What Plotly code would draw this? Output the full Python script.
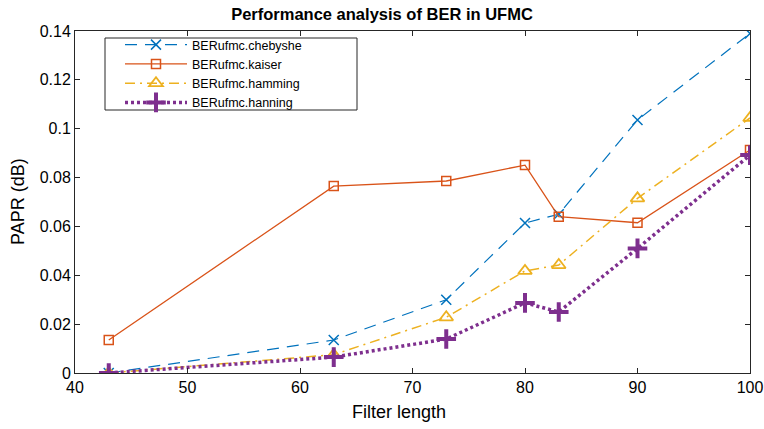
import plotly.graph_objects as go

# Filter lengths evaluated
filter_length = [43, 63, 73, 80, 83, 90, 100]

# BER results for each window type
ber_chebyshev = [0.0, 0.0135, 0.030, 0.0614, 0.065, 0.1036, 0.139]
ber_kaiser = [0.0135, 0.0765, 0.0786, 0.0851, 0.064, 0.0615, 0.0913]
ber_hamming = [0.0, 0.0075, 0.0228, 0.0418, 0.0442, 0.0715, 0.1044]
ber_hanning = [0.0, 0.0065, 0.0139, 0.0287, 0.025, 0.051, 0.0892]

series_names = ["BERufmc.chebyshe", "BERufmc.kaiser", "BERufmc.hamming", "BERufmc.hanning"]

y_ticks = [0, 0.02, 0.04, 0.06, 0.08, 0.1, 0.12, 0.14]
y_tick_text = ["0", "0.02", "0.04", "0.06", "0.08", "0.1", "0.12", "0.14"]
x_ticks = [40, 50, 60, 70, 80, 90, 100]

FONT = "Liberation Sans, Arial, sans-serif"
W, H = 764, 429
L, R, T, B = 75, 14, 31, 56
PW, PH = W - L - R, H - T - B

fig = go.Figure()

fig.add_trace(go.Scatter(
    x=filter_length, y=ber_chebyshev, name=series_names[0], mode="lines+markers",
    line=dict(color="#0072BD", width=1.2, dash="12px,8px"),
    marker=dict(symbol="x-thin-open", size=10, line=dict(color="#0072BD", width=1.5)),
))
fig.add_trace(go.Scatter(
    x=filter_length, y=ber_kaiser, name=series_names[1], mode="lines+markers",
    line=dict(color="#D95319", width=1.3),
    marker=dict(symbol="square-open", size=9, color="#D95319", line=dict(width=1.5)),
))
fig.add_trace(go.Scatter(
    x=filter_length, y=ber_hamming, name=series_names[2], mode="lines+markers",
    line=dict(color="#EDB120", width=1.5, dash="10px,5px,2px,5px"),
    marker=dict(symbol="triangle-up-open", size=12, color="#EDB120", line=dict(width=1.8)),
))
fig.add_trace(go.Scatter(
    x=filter_length, y=ber_hanning, name=series_names[3], mode="lines+markers",
    line=dict(color="#7E2F8E", width=3.5, dash="3px,3px"),
    marker=dict(symbol="cross-thin-open", size=14, color="#7E2F8E", line=dict(width=4, color="#7E2F8E")),
))

axis_common = dict(
    showline=True, linecolor="#262626", linewidth=1, mirror="ticks",
    ticks="inside", ticklen=5, tickcolor="#262626", tickwidth=1,
    showgrid=False, zeroline=False, automargin=False,
    tickfont=dict(family=FONT, size=16, color="#000000"),
)

fig.update_xaxes(range=[40, 100], tickvals=x_ticks, ticktext=[str(v) for v in x_ticks], **axis_common)
fig.update_yaxes(range=[0, 0.14], tickvals=y_ticks, ticktext=y_tick_text, **axis_common)

# Axis titles
fig.add_annotation(text="Filter length", xref="paper", yref="paper",
                   x=(398.5 - L) / PW, y=-(412 - (H - B)) / PH, xanchor="center", yanchor="middle",
                   showarrow=False, font=dict(family=FONT, size=18, color="#000000"))
fig.add_annotation(text="PAPR (dB)", xref="paper", yref="paper", textangle=-90,
                   x=-(L - 18) / PW, y=0.5, xanchor="center", yanchor="middle",
                   showarrow=False, font=dict(family=FONT, size=18, color="#000000"))

# Legend frame
fig.add_shape(type="rect", xref="paper", yref="paper",
              x0=(105 - L) / PW, x1=(357 - L) / PW,
              y0=(H - B - 110) / PH, y1=(H - B - 38) / PH,
              line=dict(color="#262626", width=1), fillcolor="white", layer="below")

fig.update_layout(
    width=W, height=H,
    margin=dict(l=L, r=R, t=T, b=B),
    plot_bgcolor="white", paper_bgcolor="white",
    title=dict(text="<b>Performance analysis of BER in UFMC</b>", x=0.5, xanchor="center",
               y=1 - 14 / H, yanchor="middle",
               font=dict(family=FONT, size=16.5, color="#000000")),
    legend=dict(x=(120 - L) / PW, y=(H - B - 30) / PH, xanchor="left", yanchor="top",
                bgcolor="rgba(0,0,0,0)", borderwidth=0,
                font=dict(family=FONT, size=12.5, color="#000000"),
                itemwidth=62, tracegroupgap=0),
    showlegend=True,
)

fig.write_html("out.html")
